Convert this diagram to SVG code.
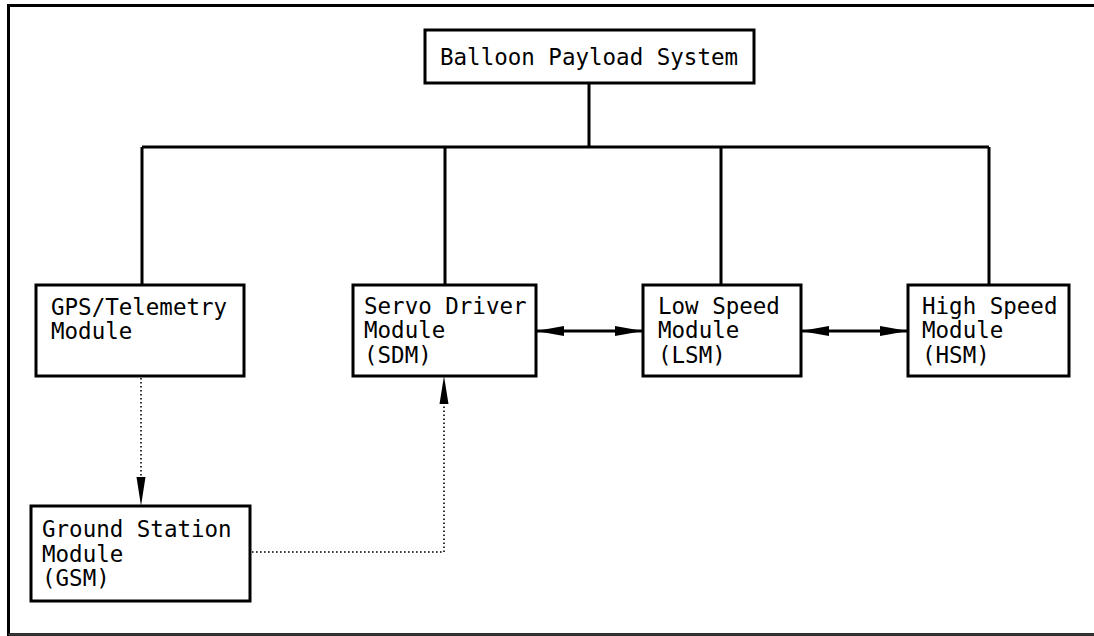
<svg xmlns="http://www.w3.org/2000/svg" width="1094" height="636" viewBox="0 0 1094 636">
<style>
.box{fill:#fff;stroke:#000;stroke-width:3}
.t{font-family:"DejaVu Sans Mono","Liberation Mono",monospace;font-size:22.5px;fill:#000}
.c{fill:none;stroke:#000;stroke-width:3}
.d{fill:none;stroke:#000;stroke-width:1.6;stroke-dasharray:1.6 2.4}
</style>
<defs>
<marker id="ah" viewBox="0 0 28 10" refX="28" refY="5" markerWidth="28" markerHeight="10" markerUnits="userSpaceOnUse" orient="auto-start-reverse">
<path d="M0,0 L28,5 L0,10 Z" fill="#000"/>
</marker>
</defs>
<rect width="1094" height="636" fill="#fff"/>
<path d="M1094,5.5 H8.5 V634.5 H1094" fill="none" stroke="#000" stroke-width="3"/>
<path d="M8.5,634.5 H1094" fill="none" stroke="#3a3a3a" stroke-width="2.5"/>
<g id="connectors">
<path class="c" d="M589,83 V147 M142,147 H989 M142,147 V285 M445,147 V285 M721,147 V285 M989,147 V285"/>
<line class="c" x1="536" y1="331" x2="643" y2="331" marker-start="url(#ah)" marker-end="url(#ah)"/>
<line class="c" x1="801" y1="331" x2="908" y2="331" marker-start="url(#ah)" marker-end="url(#ah)"/>
<line class="d" x1="141" y1="378" x2="141" y2="480"/>
<path d="M136.5,477 L145.5,477 L141,506 Z" fill="#000"/>
<path class="d" d="M252,552 H444 V404"/>
<path d="M439.5,404 L448.5,404 L444,376 Z" fill="#000"/>
</g>
<g id="balloon">
<rect class="box" x="425" y="30" width="329" height="53"/>
<text class="t" x="440" y="65">Balloon Payload System</text>
</g>
<g id="gps">
<rect class="box" x="36" y="285" width="208" height="91"/>
<text class="t" x="51" y="315">GPS/Telemetry</text>
<text class="t" x="51" y="339">Module</text>
</g>
<g id="sdm">
<rect class="box" x="353" y="285" width="183" height="91"/>
<text class="t" x="364" y="314">Servo Driver</text>
<text class="t" x="364" y="338">Module</text>
<text class="t" x="364" y="363">(SDM)</text>
</g>
<g id="lsm">
<rect class="box" x="643" y="285" width="158" height="91"/>
<text class="t" x="658" y="314">Low Speed</text>
<text class="t" x="658" y="338">Module</text>
<text class="t" x="658" y="363">(LSM)</text>
</g>
<g id="hsm">
<rect class="box" x="908" y="285" width="161" height="91"/>
<text class="t" x="922" y="314">High Speed</text>
<text class="t" x="922" y="338">Module</text>
<text class="t" x="922" y="363">(HSM)</text>
</g>
<g id="gsm">
<rect class="box" x="31" y="506" width="219" height="95"/>
<text class="t" x="42" y="537">Ground Station</text>
<text class="t" x="42" y="562">Module</text>
<text class="t" x="42" y="586">(GSM)</text>
</g>
</svg>
